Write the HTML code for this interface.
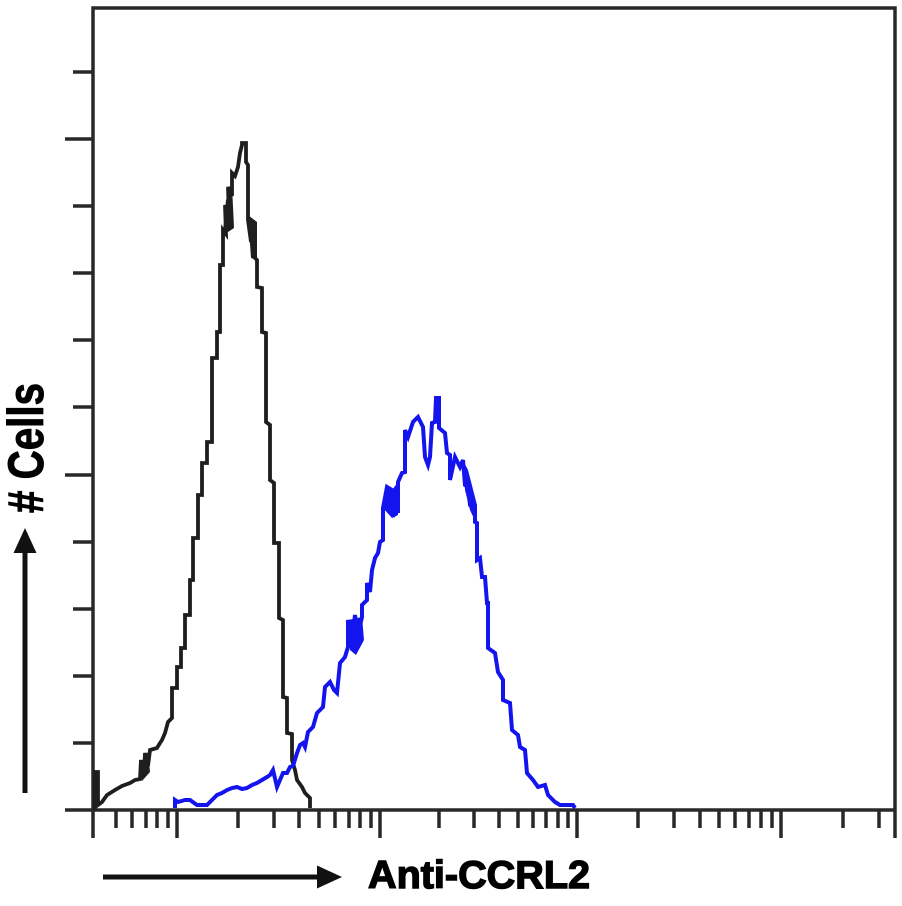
<!DOCTYPE html>
<html><head><meta charset="utf-8"><style>
html,body{margin:0;padding:0;background:#fff;}
svg{display:block;}
</style></head><body>
<svg width="902" height="906" viewBox="0 0 902 906" xmlns="http://www.w3.org/2000/svg">
<rect width="902" height="906" fill="#fff"/>
<g stroke="#282828" stroke-width="3.5" fill="none" stroke-linecap="butt">
  <!-- frame -->
  <path d="M93,838 V8 H895 V838"/>
  <path d="M65,810 H896"/>
  <!-- y ticks -->
  <path d="M73,72 H93 M65,139 H93 M73,206 H93 M73,273 H93 M73,340 H93 M73,407 H93 M65,475 H93 M73,542 H93 M73,609 H93 M73,676 H93 M73,743 H93"/>
  <!-- x long ticks -->
  <path d="M177,810 V838 M380,810 V838 M577,810 V838 M781,810 V838"/>
  <!-- x short ticks -->
  <path d="M116,810 V828 M132,810 V828 M146,810 V828 M157,810 V828 M168,810 V828
           M238,810 V828 M274,810 V828 M299,810 V828 M319,810 V828 M335,810 V828 M349,810 V828 M360,810 V828 M371,810 V828
           M439,810 V828 M474,810 V828 M499,810 V828 M518,810 V828 M533,810 V828 M546,810 V828 M558,810 V828 M568,810 V828
           M638,810 V828 M674,810 V828 M700,810 V828 M719,810 V828 M735,810 V828 M749,810 V828 M761,810 V828 M772,810 V828
           M843,810 V828 M879,810 V828"/>
</g>
<!-- black histogram -->
<polygon fill="#1e1e1e" points="223,232 226,200 232,186 234,228 228,232"/>
<polygon fill="#1e1e1e" points="248,215 257,222 257,260 251,258"/>
<polygon fill="#1e1e1e" points="140,765 148,752 150,772 142,781"/>
<polyline fill="none" stroke="#1e1e1e" stroke-width="3.8" stroke-linejoin="miter" points="
93,808 95,808 95,772 98,772 98,805 102,802 107,795 115,790 122,786 130,783 135,780 140,779 141,760 144,774 145,753 148,766 150,750 157,748 160,743 162,740 165,733 168,722 172,718 172,688 177,688 177,667 181,667 181,648 185,648 185,615 190,615 190,580 193,580 193,538 198,538 198,495 202,495 202,463 207,463 207,442 212,442 212,358 217,358 217,332 220,332 220,265 223,265 223,230 226,234 225,205 229,218 228,187 232,196 232,173 235,176 238,167 240,153 242,145 242,143 246,143 246,162 248,165 248,220 251,242 253,225 255,258 257,260 257,287 262,288 262,332 266,333 266,422 270,425 270,480 274,483 274,543 279,543 279,618 283,620 283,697 287,698 287,733 292,734 292,760 295,770 297,780 302,787 305,793 310,798 310,808"/>
<!-- blue histogram -->
<polygon fill="#1414ee" points="348,620 362,617 364,640 356,655 350,650"/>
<polygon fill="#1414ee" points="383,508 387,487 392,490 398,482 398,515 392,518"/>
<polygon fill="#1414ee" points="463,460 468,470 477,505 477,525 470,510 465,490"/>
<polyline fill="none" stroke="#1414ee" stroke-width="4" stroke-linejoin="miter" points="
175,808 175,800 178,802 185,800 190,800 197,805 207,805 212,800 217,795 222,793 227,790 232,788 237,787 242,789 247,788 252,785 257,783 262,780 267,777 270,775 273,770 277,787 280,780 283,773 287,773 290,767 293,766 297,753 300,745 303,743 305,747 308,732 313,727 317,713 323,707 325,687 330,682 334,690 337,693 340,663 345,657 348,647 348,620 352,640 355,615 358,635 362,617 362,605 367,600 367,583 370,592 372,570 375,558 378,553 380,542 383,540 383,508 387,487 392,490 393,517 396,500 398,513 398,482 402,473 405,472 405,430 408,437 413,422 418,417 423,427 425,457 428,465 430,457 432,423 435,422 436,398 439,398 439,428 445,433 447,453 450,455 450,480 455,457 460,467 463,460 465,485 468,487 470,505 475,507 475,522 477,523 477,560 480,558 482,577 485,577 487,603 488,603 488,648 495,653 498,672 503,680 503,700 510,703 512,730 518,735 520,747 525,750 527,773 533,780 538,787 545,785 548,795 555,802 560,805 573,805 575,808"/>
<!-- y label arrow -->
<line x1="25" y1="793" x2="25" y2="548" stroke="#111" stroke-width="5"/>
<polygon points="25,528 13.5,553 36.5,553" fill="#111"/>
<!-- x label arrow -->
<line x1="103" y1="877" x2="322" y2="877" stroke="#111" stroke-width="5"/>
<polygon points="342,877 317,865.5 317,888.5" fill="#111"/>
<!-- labels -->
<text transform="translate(43,513) rotate(-90)" font-family="Liberation Sans, sans-serif" font-weight="bold" font-size="50" textLength="130" lengthAdjust="spacingAndGlyphs" fill="#000" stroke="#000" stroke-width="1"># Cells</text>
<text x="368" y="888" font-family="Liberation Sans, sans-serif" font-weight="bold" font-size="39" textLength="222" lengthAdjust="spacingAndGlyphs" fill="#000" stroke="#000" stroke-width="1.4">Anti‑CCRL2</text>
</svg>
</body></html>
